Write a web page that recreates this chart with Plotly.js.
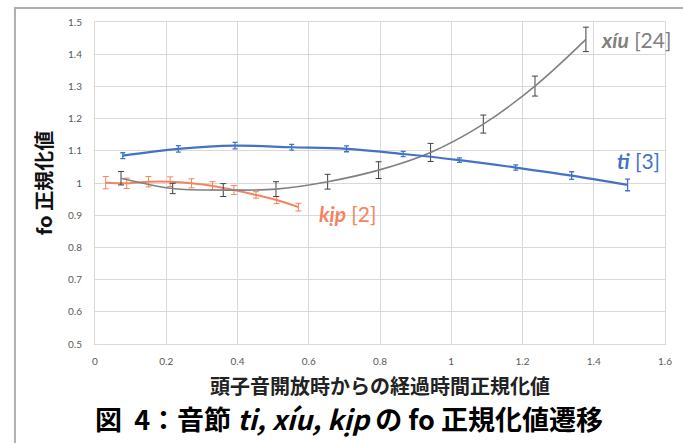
<!DOCTYPE html>
<html>
<head>
<meta charset="utf-8">
<script src="https://cdn.plot.ly/plotly-3.0.1.min.js"></script>
<style>
html,body{margin:0;padding:0;background:#fff;}
#chart{width:683px;height:443px;}
</style>
</head>
<body>
<div id="chart"></div>
<script>
// ti [3]
var tiX   = [0.078, 0.234, 0.393, 0.552, 0.706, 0.865, 1.023, 1.181, 1.338, 1.495];
var tiY   = [1.085, 1.106, 1.116, 1.111, 1.106, 1.090, 1.071, 1.048, 1.023, 0.994];
var tiErr = [0.009, 0.010, 0.010, 0.009, 0.009, 0.008, 0.007, 0.008, 0.012, 0.018];

// xíu [24]
var xiuX   = [0.073, 0.218, 0.360, 0.508, 0.653, 0.796, 0.942, 1.090, 1.235, 1.378];
var xiuY   = [1.015, 0.983, 0.978, 0.981, 1.004, 1.040, 1.095, 1.183, 1.301, 1.446];
var xiuErr = [0.021, 0.016, 0.020, 0.023, 0.023, 0.026, 0.028, 0.028, 0.031, 0.038];

// kịp [2]
var kipX   = [0.030, 0.089, 0.150, 0.211, 0.271, 0.330, 0.390, 0.452, 0.510, 0.571];
var kipY   = [1.001, 0.999, 1.004, 1.004, 0.999, 0.991, 0.978, 0.963, 0.947, 0.925];
var kipErr = [0.019, 0.016, 0.016, 0.015, 0.014, 0.013, 0.014, 0.010, 0.011, 0.012];

var xTickVals = [0, 0.2, 0.4, 0.6, 0.8, 1, 1.2, 1.4, 1.6];
var yTickVals = [0.5, 0.6, 0.7, 0.8, 0.9, 1, 1.1, 1.2, 1.3, 1.4, 1.5];

var cBlue = '#4472c4', cGray = '#808080', cOrange = '#f4845f';
var latin = "Lato, 'Noto Sans CJK JP', sans-serif";
var cjk = "'Noto Sans CJK JP', sans-serif";

var traces = [
  {x: kipX, y: kipY, type: 'scatter', mode: 'lines', name: 'kịp',
   line: {color: cOrange, width: 2, shape: 'spline', smoothing: 1},
   error_y: {type: 'data', array: kipErr, visible: true, color: cOrange, thickness: 1, width: 3}},
  {x: xiuX, y: xiuY, type: 'scatter', mode: 'lines', name: 'xíu',
   line: {color: cGray, width: 1.6, shape: 'spline', smoothing: 1},
   error_y: {type: 'data', array: xiuErr, visible: true, color: '#404040', thickness: 1, width: 3}},
  {x: tiX, y: tiY, type: 'scatter', mode: 'lines', name: 'ti',
   line: {color: cBlue, width: 2.2, shape: 'spline', smoothing: 1},
   error_y: {type: 'data', array: tiErr, visible: true, color: '#3f77c6', thickness: 1.3, width: 2.5}}
];

var layout = {
  width: 683, height: 443,
  margin: {l: 95, r: 18, t: 22, b: 99},
  paper_bgcolor: '#fff', plot_bgcolor: '#fff',
  showlegend: false,
  xaxis: {
    range: [0, 1.6], tickvals: xTickVals, ticktext: xTickVals.map(String),
    showgrid: true, gridcolor: '#d9d9d9', gridwidth: 1,
    showline: true, linecolor: '#d9d9d9', mirror: true, zeroline: false,
    ticks: '', ticklabelstandoff: 8,
    tickfont: {family: latin, size: 10, color: '#595959'},
    title: {text: '<b>頭子音開放時からの経過時間正規化値</b>', standoff: 13,
            font: {family: cjk, size: 20, color: '#222'}}
  },
  yaxis: {
    range: [0.5, 1.5], tickvals: yTickVals, ticktext: yTickVals.map(String),
    showgrid: true, gridcolor: '#d9d9d9', gridwidth: 1,
    showline: true, linecolor: '#d9d9d9', mirror: true, zeroline: false,
    ticks: '', ticklabelstandoff: 10,
    tickfont: {family: latin, size: 10, color: '#595959'},
    title: {text: '<b>fo 正規化値</b>', standoff: 10,
            font: {family: cjk, size: 20, color: '#111'}}
  },
  title: {
    text: '<b>図&nbsp;&nbsp;4：音節 <i>ti, xíu, kịp</i> の fo 正規化値遷移</b>',
    x: 0.511, xanchor: 'center', xref: 'container',
    y: 0.05, yanchor: 'middle', yref: 'container',
    font: {family: cjk, size: 27, color: '#000'}
  },
  annotations: [
    {x: 1.415, y: 1.447, xref: 'x', yref: 'y', xanchor: 'left', yanchor: 'middle', showarrow: false,
     text: '<b><i>xíu</i></b> [24]', font: {family: latin, size: 21, color: cGray}},
    {x: 1.46, y: 1.071, xref: 'x', yref: 'y', xanchor: 'left', yanchor: 'middle', showarrow: false,
     text: '<b><i>ti</i></b> [3]', font: {family: latin, size: 21, color: cBlue}},
    {x: 0.623, y: 0.904, xref: 'x', yref: 'y', xanchor: 'left', yanchor: 'middle', showarrow: false,
     text: '<b><i>kịp</i></b> [2]', font: {family: latin, size: 21, color: cOrange}}
  ],
  shapes: [
    {type: 'rect', xref: 'paper', yref: 'paper', x0: -0.1404, x1: 1.06, y0: -0.36, y1: 1.0435,
     line: {color: '#b0b0b0', width: 2}, fillcolor: 'rgba(0,0,0,0)', layer: 'below'}
  ]
};

Plotly.newPlot('chart', traces, layout, {displayModeBar: false, staticPlot: true});
</script>
</body>
</html>
